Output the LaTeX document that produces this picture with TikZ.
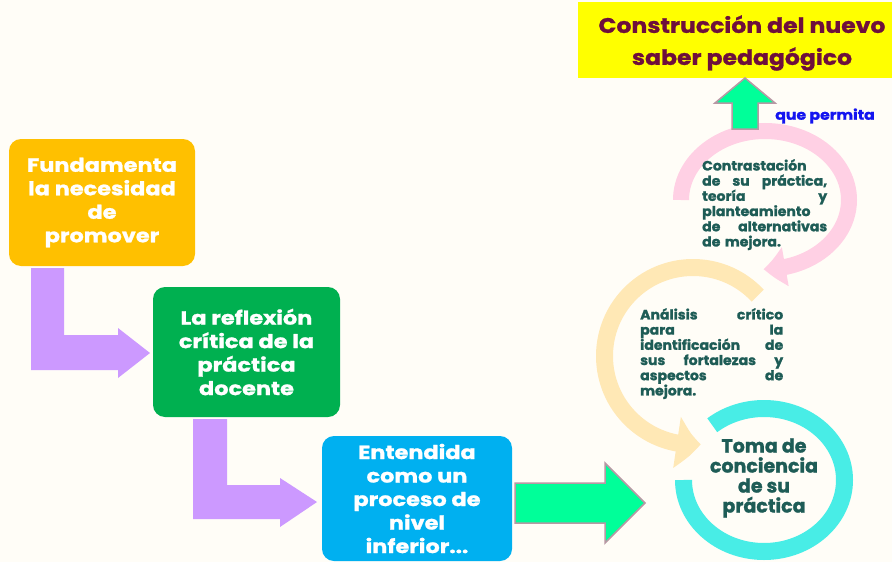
\documentclass[tikz,border=0pt]{standalone}
\usepackage{fontspec}
\setmainfont{Poppins}
\newfontfamily\boxfont{Poppins}[FakeStretch=1.18, FakeBold=1.2]
\newfontfamily\topfont{Poppins}[FakeStretch=1.12, FakeBold=1.2]
\newfontfamily\ringfont{Poppins}[FakeStretch=1.04, FakeBold=1.4]
\newfontfamily\tomafont{Poppins}[FakeBold=1.4]
\newfontfamily\qpfont{Poppins}[FakeStretch=1.12, FakeBold=1.2]
\usetikzlibrary{arrows.meta,bending,calc}
\definecolor{bg}{RGB}{255,253,247}
\definecolor{borange}{RGB}{255,192,0}
\definecolor{bgreen}{RGB}{0,176,80}
\definecolor{bblue}{RGB}{0,176,240}
\definecolor{bpurple}{RGB}{204,153,255}
\definecolor{agreen}{RGB}{0,255,153}
\definecolor{aline}{RGB}{184,152,164}
\definecolor{ringpink}{RGB}{255,208,228}
\definecolor{ringyellow}{RGB}{255,232,181}
\definecolor{ringcyan}{RGB}{72,237,230}
\definecolor{teal}{RGB}{30,92,86}
\definecolor{maroon}{RGB}{110,15,60}
\definecolor{qblue}{RGB}{20,20,240}
\definecolor{topyellow}{RGB}{255,255,0}
\begin{document}
\begin{tikzpicture}[x=1pt,y=-1pt,
  stepbox/.style={rounded corners=12pt, text=white, align=center,
    font=\boxfont\bfseries\fontsize{19}{23.5}\selectfont, inner sep=0pt},
  bentarrow/.style={fill=bpurple},
  blockarrow/.style={fill=agreen, draw=aline, line width=1.5pt},
  ringtext/.style={text=teal, font=\ringfont\bfseries\fontsize{13.5}{15.2}\selectfont, align=left, inner sep=0pt, anchor=north west}]
\useasboundingbox (0,0) rectangle (892,562);
\fill[bg] (0,0) rectangle (892,562);

% boxes
\node[stepbox, fill=borange, minimum width=186pt, minimum height=127pt] (b1) at (102,202.5)
  {Fundamenta\\la necesidad\\de\\promover};
\node[stepbox, fill=bgreen, minimum width=187pt, minimum height=130pt] (b2) at (246.5,352)
  {La reflexión\\crítica de la\\práctica\\docente};
\node[stepbox, fill=bblue, minimum width=190pt, minimum height=125pt] (b3) at (417,498.5)
  {Entendida\\como un\\proceso de\\nivel\\inferior...};

% bent arrows
\fill[bentarrow] (31,268) -- (64,268) -- (64,335) -- (118,335) -- (118,328) -- (150,353)
  -- (118,378) -- (118,370) -- (31,370) -- cycle;
\fill[bentarrow] (193,419) -- (227,419) -- (227,485) -- (280,485) -- (280,478) -- (317,502)
  -- (280,527) -- (280,519) -- (193,519) -- cycle;

% green right arrow
\draw[blockarrow] (515,483) -- (605,483) -- (605,463) -- (645,503) -- (605,543) -- (605,523)
  -- (515,523) -- cycle;

% rings
\coordinate (pc) at (765,200);
\coordinate (yc) at (693,356);
\coordinate (cc) at (764,480);
\draw[ringpink, line width=16pt, -{Triangle[width=38pt,length=22pt,bend]}]
  ($(pc)+(180:84 and 69)$) arc[start angle=180, end angle=451, x radius=84, y radius=69];
\draw[ringyellow, line width=17pt, -{Triangle[width=50pt,length=24pt,bend]}]
  ($(yc)+(317:88.5)$) arc[start angle=317, end angle=85, radius=88.5];
\draw[ringcyan, line width=17pt]
  ($(cc)+(180:80.5 and 71.5)$) arc[start angle=180, end angle=-130, x radius=80.5, y radius=71.5];

% top box and up arrow
\node[fill=topyellow, minimum width=314pt, minimum height=76pt, inner sep=0pt] (top) at (735,40) {};
\node[text=maroon, align=center, inner sep=0pt, font=\topfont\bfseries\fontsize{21}{32}\selectfont]
  (toptext) at (742,43) {Construcción del nuevo\\saber pedagógico};
\draw[blockarrow] (732,129) -- (732,103) -- (715,103) -- (745,78) -- (775,103) -- (758,103)
  -- (758,129) -- cycle;
\node[text=qblue, font=\qpfont\bfseries\fontsize{14}{15}\selectfont, inner sep=0pt] (qp) at (825,116) {que permita};

% ring texts
\node[ringtext, text width=125pt] (t1) at (702,159)
  {Contrastación\\de\hfill su\hfill práctica,\\teoría\hfill y\\planteamiento\\de\hfill alternativas\\de mejora.};
\node[ringtext, text width=143pt] (t2) at (640,308)
  {Análisis\hfill crítico\\para\hfill la\\identificación\hfill de\\sus\hfill fortalezas\hfill y\\aspectos\hfill de\\mejora.};
\node[text=teal, align=center, inner sep=0pt, font=\tomafont\bfseries\fontsize{19}{20}\selectfont] (t3) at (764,478)
  {Toma de\\conciencia\\de su\\práctica};
\end{tikzpicture}
\end{document}
